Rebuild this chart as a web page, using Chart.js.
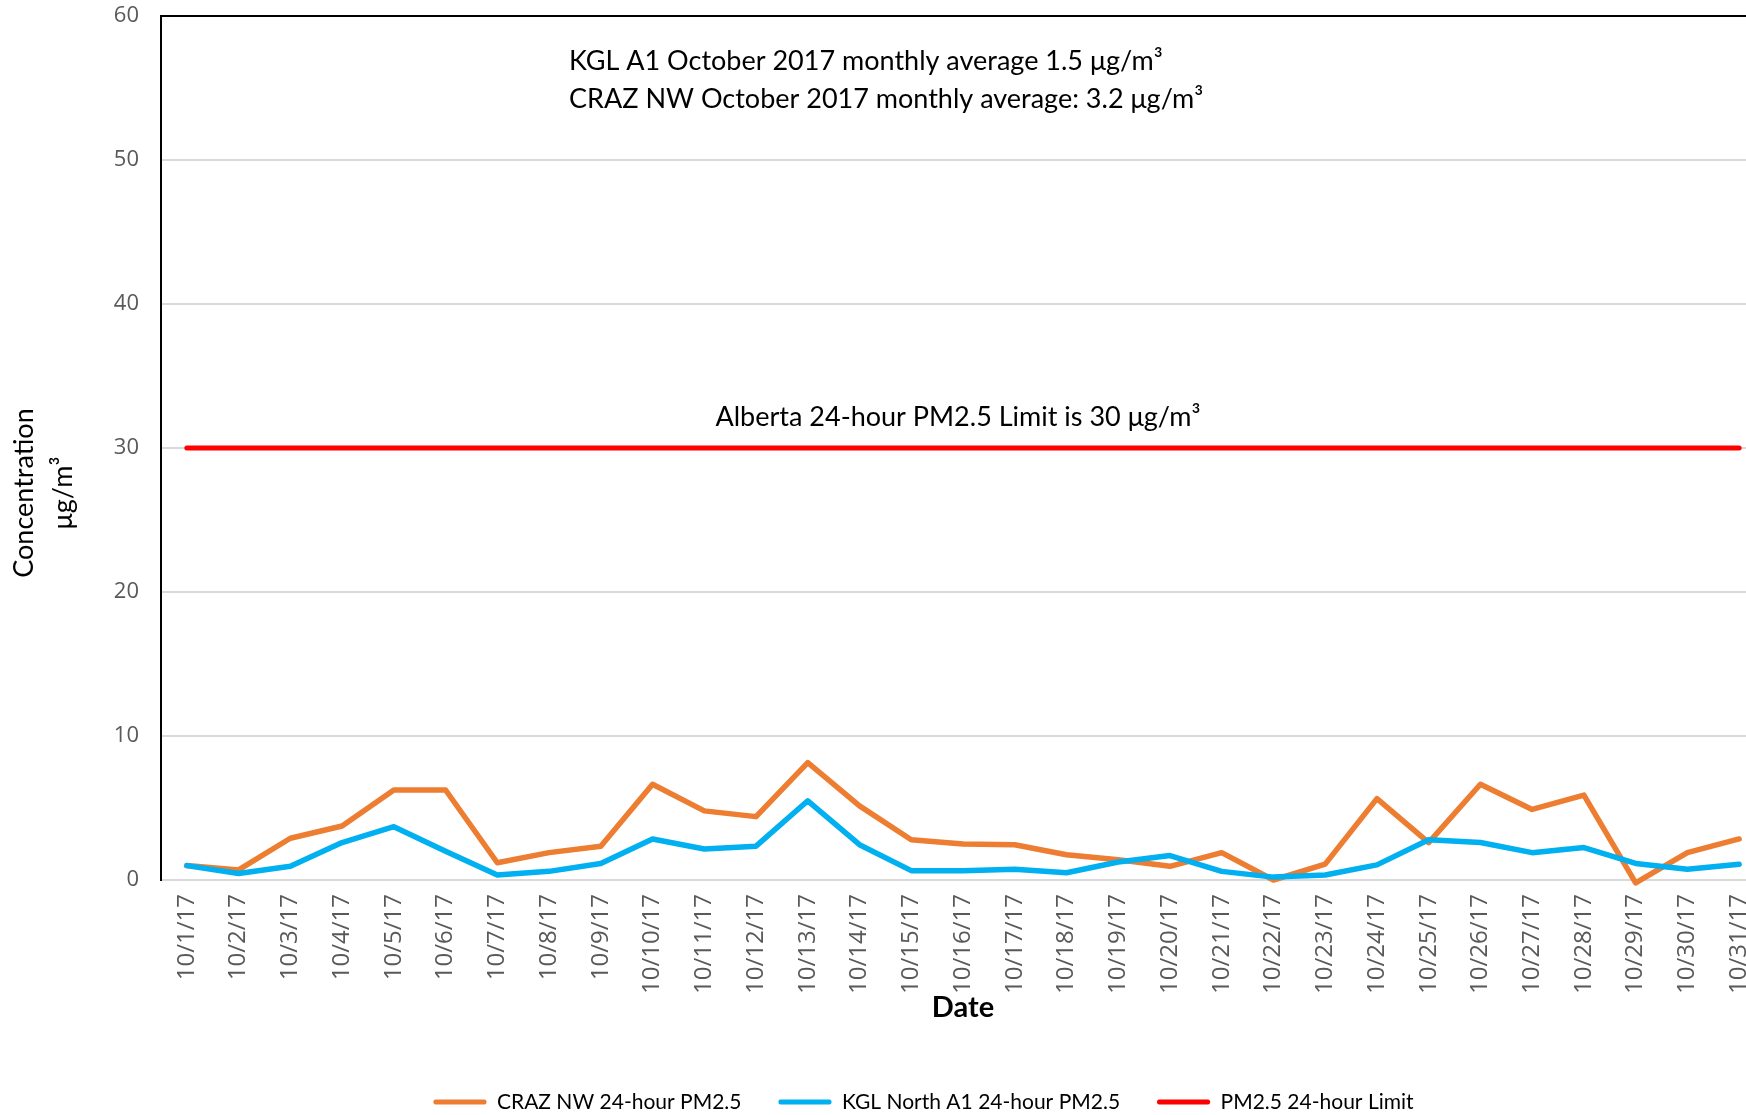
<!DOCTYPE html>
<html>
<head>
<meta charset="utf-8">
<script src="https://cdn.jsdelivr.net/npm/chart.js@4.4.0/dist/chart.umd.min.js"></script>
<style>
    html, body { margin: 0; padding: 0; background: #fff; overflow: hidden; }
    #wrap { width: 1746px; height: 1115px; overflow: hidden; }
</style>
</head>
<body>
<div id="wrap"><canvas id="pmChart" width="1765" height="1115"></canvas></div>
<script>
// october 2017 daily PM2.5
const dates = ['10/1/17', '10/2/17', '10/3/17', '10/4/17', '10/5/17', '10/6/17', '10/7/17', '10/8/17',
    '10/9/17', '10/10/17', '10/11/17', '10/12/17', '10/13/17', '10/14/17', '10/15/17', '10/16/17',
    '10/17/17', '10/18/17', '10/19/17', '10/20/17', '10/21/17', '10/22/17', '10/23/17', '10/24/17',
    '10/25/17', '10/26/17', '10/27/17', '10/28/17', '10/29/17', '10/30/17', '10/31/17'];

const crazNW = [1.0, 0.7, 2.9, 3.75, 6.25, 6.25, 1.2, 1.9, 2.35, 6.65, 4.8, 4.4, 8.15, 5.15, 2.8, 2.5,
    2.45, 1.75, 1.4, 0.95, 1.9, 0.0, 1.1, 5.65, 2.6, 6.65, 4.9, 5.9, -0.2, 1.9, 2.85];

const kglNorth = [1.0, 0.45, 0.95, 2.6, 3.7, 2.0, 0.35, 0.6, 1.15, 2.85, 2.15, 2.35, 5.5, 2.45, 0.65, 0.65,
    0.75, 0.5, 1.25, 1.7, 0.6, 0.2, 0.35, 1.05, 2.8, 2.6, 1.9, 2.25, 1.15, 0.75, 1.1];

const limit = [30, 30, 30, 30, 30, 30, 30, 30, 30, 30, 30, 30, 30, 30, 30, 30,
    30, 30, 30, 30, 30, 30, 30, 30, 30, 30, 30, 30, 30, 30, 30];

const yTicks = [0, 10, 20, 30, 40, 50, 60];

const seriesNames = ['CRAZ NW 24-hour PM2.5', 'KGL North A1 24-hour PM2.5', 'PM2.5 24-hour Limit'];

const notes = ['KGL A1 October 2017 monthly average 1.5 μg/m³',
    'CRAZ NW October 2017 monthly average: 3.2 μg/m³'];
const limitNote = 'Alberta 24-hour PM2.5 Limit is 30 μg/m³';
const yTitle = ['Concentration', 'μg/m³'];

const PLOT_BOTTOM = 880;
const LEGEND_PAD = 37;

// free text on the plot + y title
const textLayer = {
    id: 'textLayer',
    afterDraw(chart) {
        const ctx = chart.ctx;
        const y = chart.scales.y;
        ctx.save();
        ctx.fillStyle = '#000';
        ctx.font = '27px Lato';
        ctx.textBaseline = 'middle';

        ctx.textAlign = 'left';
        ctx.fillText(notes[0], 569, 61);
        ctx.fillText(notes[1], 569, 99);

        ctx.textAlign = 'center';
        ctx.fillText(limitNote, 958, y.getPixelForValue(30) - 31);

        ctx.translate(24, 493);
        ctx.rotate(-Math.PI / 2);
        ctx.fillText(yTitle[0], 0, 0);
        ctx.fillText(yTitle[1], 0, 39);
        ctx.restore();
    }
};

// legend sits a bit right of canvas centre and low
const legendShift = {
    id: 'legendShift',
    afterLayout(chart) {
        const lg = chart.legend;
        lg.left += 41;
        lg.right += 41;
        const rowH = lg.height - LEGEND_PAD - 10;
        const dy = 1102 - (lg.top + LEGEND_PAD + rowH / 2);
        lg.top += dy;
        lg.bottom += dy;
    }
};

document.addEventListener('DOMContentLoaded', () => {
    const ctx = document.getElementById('pmChart').getContext('2d');

    new Chart(ctx, {
        type: 'line',
        data: {
            labels: dates,
            datasets: [
                { label: seriesNames[0], data: crazNW, borderColor: '#ED7D31', borderWidth: 5.5, order: 1 },
                { label: seriesNames[1], data: kglNorth, borderColor: '#00B0F0', borderWidth: 5.5, order: 0 },
                { label: seriesNames[2], data: limit, borderColor: '#FF0000', borderWidth: 5, order: 2 }
            ]
        },
        options: {
            responsive: false,
            animation: false,
            clip: false,
            layout: { padding: { top: 16, bottom: 0, left: 0, right: 0 } },
            elements: {
                line: { tension: 0, borderCapStyle: 'round', borderJoinStyle: 'round' },
                point: { radius: 0, hoverRadius: 0 }
            },
            plugins: {
                tooltip: { enabled: false },
                legend: {
                    position: 'bottom',
                    labels: {
                        boxWidth: 53,
                        boxHeight: 5,
                        padding: LEGEND_PAD,
                        color: '#595959',
                        font: { family: 'Lato', size: 21 },
                        generateLabels: chart => chart.data.datasets.map((ds, i) => ({
                            text: ds.label,
                            fillStyle: ds.borderColor,
                            strokeStyle: ds.borderColor,
                            lineWidth: 0,
                            borderRadius: 2,
                            hidden: false,
                            datasetIndex: i
                        }))
                    }
                }
            },
            scales: {
                x: {
                    offset: true,
                    grid: { display: false },
                    border: { display: false },
                    ticks: {
                        autoSkip: false,
                        minRotation: 90,
                        maxRotation: 90,
                        padding: 6,
                        color: '#595959',
                        font: { family: 'Open Sans', size: 24 }
                    },
                    title: {
                        display: true,
                        text: 'Date',
                        color: '#000',
                        font: { family: 'Lato', size: 29, weight: 'bold' },
                        padding: { top: 0, bottom: 0 }
                    },
                    afterFit: s => {
                        s.paddingLeft = 0;
                        s.paddingRight = 0;
                        s.height = s.chart.height - s.chart.legend.height - PLOT_BOTTOM;
                        // put the title centre at y = 1008
                        s.options.title.padding.bottom = (PLOT_BOTTOM + s.height) - 1008 - 17.4;
                    }
                },
                y: {
                    min: 0,
                    max: 60,
                    afterBuildTicks: s => { s.ticks = yTicks.map(v => ({ value: v })); },
                    afterFit: s => {
                        s.width = 161;
                        s.paddingTop = 0;
                        s.paddingBottom = 0;
                    },
                    grid: {
                        drawTicks: false,
                        color: c => c.tick && c.tick.value === 60 ? '#000' : '#D9D9D9',
                        lineWidth: 2
                    },
                    border: { color: '#000', width: 2 },
                    ticks: {
                        padding: 22,
                        color: '#595959',
                        font: { family: 'Open Sans', size: 22 }
                    }
                }
            }
        },
        plugins: [textLayer, legendShift]
    });
});
</script>
</body>
</html>
